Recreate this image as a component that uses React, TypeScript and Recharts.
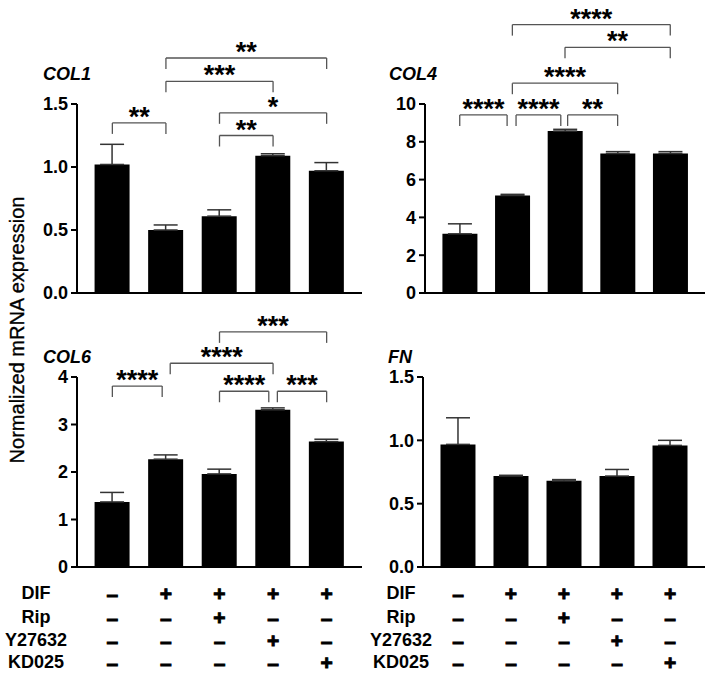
import React from 'react';
import { BarChart, Bar, XAxis, YAxis, ErrorBar, ReferenceLine } from 'recharts';

const groups = [1, 2, 3, 4, 5];

const col1Mean = [1.02, 0.5, 0.61, 1.09, 0.97];
const col1Err = [0.16, 0.04, 0.05, 0.015, 0.065];
const col4Mean = [3.13, 5.16, 8.57, 7.38, 7.38];
const col4Err = [0.53, 0.06, 0.09, 0.1, 0.1];
const col6Mean = [1.37, 2.27, 1.96, 3.31, 2.64];
const col6Err = [0.2, 0.09, 0.1, 0.04, 0.05];
const fnMean = [0.968, 0.718, 0.68, 0.718, 0.96];
const fnErr = [0.21, 0.006, 0.01, 0.052, 0.04];

// significance brackets: group from / to, height in data units, label
const col1Brackets = [
  { x1: 1, x2: 2, y: 1.35, stars: '**' },
  { x1: 3, x2: 4, y: 1.25, stars: '**' },
  { x1: 3, x2: 5, y: 1.43, stars: '*' },
  { x1: 2, x2: 4, y: 1.68, stars: '***' },
  { x1: 2, x2: 5, y: 1.865, stars: '**' },
];
const col4Brackets = [
  { x1: 1, x2: 1.9, y: 9.42, stars: '****' },
  { x1: 2.07, x2: 2.92, y: 9.42, stars: '****' },
  { x1: 3.05, x2: 4, y: 9.42, stars: '**' },
  { x1: 2, x2: 4, y: 11.1, stars: '****' },
  { x1: 3, x2: 5, y: 13.0, stars: '**' },
  { x1: 2, x2: 5, y: 14.2, stars: '****' },
];
const col6Brackets = [
  { x1: 1, x2: 1.93, y: 3.81, stars: '****' },
  { x1: 2.08, x2: 4, y: 4.29, stars: '****' },
  { x1: 3, x2: 3.92, y: 3.7, stars: '****' },
  { x1: 4.08, x2: 5, y: 3.7, stars: '***' },
  { x1: 3, x2: 5, y: 4.95, stars: '***' },
];

const col1Ticks = [0, 0.5, 1, 1.5];
const col4Ticks = [0, 2, 4, 6, 8, 10];
const col6Ticks = [0, 1, 2, 3, 4];
const fnTicks = [0, 0.5, 1, 1.5];

const rowLabels = ['DIF', 'Rip', 'Y27632', 'KD025'];
const rowSigns = [
  ['-', '+', '+', '+', '+'],
  ['-', '-', '+', '-', '-'],
  ['-', '-', '-', '+', '-'],
  ['-', '-', '-', '-', '+'],
];

const FONT = '"Liberation Sans", Arial, Helvetica, sans-serif';
const X_DOMAIN = [0.34, 5.66];

const starLabel = (text: string) => (props: any) => {
  const vb = props.viewBox || {};
  const cx = (vb.x || 0) + (vb.width || 0) / 2;
  return (
    <text x={cx} y={(vb.y || 0) + 3} textAnchor="middle" fontFamily={FONT} fontWeight="bold" fontSize={27} fill="#000">
      {text}
    </text>
  );
};

interface PanelProps {
  box: { left: number; top: number; width: number; height: number };
  plot: { left: number; right: number; top: number; bottom: number };
  mean: number[];
  err: number[];
  ticks: number[];
  decimals: number;
  brackets?: { x1: number; x2: number; y: number; stars: string }[];
}

const Panel = ({ box, plot, mean, err, ticks, decimals, brackets = [] }: PanelProps) => {
  const data = groups.map((g, i) => ({ x: g, v: mean[i], e: [0, err[i]] }));
  const yMax = ticks[ticks.length - 1];
  const legDrop = yMax * (11 / (plot.bottom - plot.top));
  const yW = 45;
  const xH = 10;
  const margin = {
    top: plot.top - box.top,
    bottom: box.top + box.height - plot.bottom - xH,
    left: plot.left - box.left - yW,
    right: box.left + box.width - plot.right,
  };
  return (
    <div style={{ position: 'absolute', left: box.left, top: box.top }}>
      <BarChart width={box.width} height={box.height} data={data} margin={margin}>
        <XAxis
          dataKey="x"
          type="number"
          domain={X_DOMAIN}
          ticks={groups}
          height={xH}
          tick={false}
          tickSize={7}
          axisLine={{ stroke: '#000', strokeWidth: 2 }}
          tickLine={{ stroke: '#000', strokeWidth: 1.5 }}
          allowDataOverflow
        />
        <YAxis
          width={yW}
          domain={[0, yMax]}
          ticks={ticks}
          allowDataOverflow
          tickSize={6}
          tickMargin={3}
          tickFormatter={(v: number) => v.toFixed(decimals)}
          tick={{ fontFamily: FONT, fontWeight: 'bold', fontSize: 18, fill: '#000' }}
          axisLine={{ stroke: '#000', strokeWidth: 2 }}
          tickLine={{ stroke: '#000', strokeWidth: 2 }}
        />
        <Bar dataKey="v" fill="#000" barSize={35} isAnimationActive={false}>
          <ErrorBar dataKey="e" direction="y" width={12} stroke="#333" strokeWidth={1.5} isAnimationActive={false} />
        </Bar>
        {brackets.map((b, i) => (
          <ReferenceLine
            key={`h${i}`}
            segment={[{ x: b.x1, y: b.y }, { x: b.x2, y: b.y }]}
            stroke="#555"
            strokeWidth={1.3}
            ifOverflow="visible"
            label={starLabel(b.stars)}
          />
        ))}
        {brackets.map((b, i) => (
          <ReferenceLine
            key={`l${i}`}
            segment={[{ x: b.x1, y: b.y }, { x: b.x1, y: b.y - legDrop }]}
            stroke="#555"
            strokeWidth={1.3}
            ifOverflow="visible"
          />
        ))}
        {brackets.map((b, i) => (
          <ReferenceLine
            key={`r${i}`}
            segment={[{ x: b.x2, y: b.y }, { x: b.x2, y: b.y - legDrop }]}
            stroke="#555"
            strokeWidth={1.3}
            ifOverflow="visible"
          />
        ))}
      </BarChart>
    </div>
  );
};

const colCenters = (plotLeft: number, plotRight: number) =>
  groups.map((g) => plotLeft + ((g - X_DOMAIN[0]) / (X_DOMAIN[1] - X_DOMAIN[0])) * (plotRight - plotLeft));

const leftCols = colCenters(77, 362);
const rightCols = colCenters(423, 705);
const rowY = [593, 617, 640, 662];

export default function App() {
  return (
    <div style={{ position: 'absolute', left: 0, top: 0, width: 709, height: 676, background: '#fff', overflow: 'hidden' }}>
      <Panel
        box={{ left: 0, top: 0, width: 370, height: 305 }}
        plot={{ left: 77, right: 362, top: 104, bottom: 293 }}
        mean={col1Mean}
        err={col1Err}
        ticks={col1Ticks}
        decimals={1}
        brackets={col1Brackets}
      />
      <Panel
        box={{ left: 360, top: 0, width: 349, height: 305 }}
        plot={{ left: 425, right: 705, top: 104, bottom: 293 }}
        mean={col4Mean}
        err={col4Err}
        ticks={col4Ticks}
        decimals={0}
        brackets={col4Brackets}
      />
      <Panel
        box={{ left: 0, top: 300, width: 370, height: 280 }}
        plot={{ left: 77, right: 362, top: 377, bottom: 567 }}
        mean={col6Mean}
        err={col6Err}
        ticks={col6Ticks}
        decimals={0}
        brackets={col6Brackets}
      />
      <Panel
        box={{ left: 360, top: 300, width: 349, height: 280 }}
        plot={{ left: 423, right: 705, top: 377, bottom: 567 }}
        mean={fnMean}
        err={fnErr}
        ticks={fnTicks}
        decimals={1}
      />
      <svg width={709} height={676} style={{ position: 'absolute', left: 0, top: 0, pointerEvents: 'none' }}>
        <text
          x={17}
          y={330}
          transform="rotate(-90 17 330)"
          textAnchor="middle"
          dominantBaseline="central"
          fontFamily={FONT}
          fontSize={20}
          fill="#000"
          stroke="#000"
          strokeWidth={0.35}
        >
          Normalized mRNA expression
        </text>
        <g fontFamily={FONT} fontWeight="bold" fontStyle="italic" fontSize={18} fill="#000">
          <text x={43} y={80}>COL1</text>
          <text x={389} y={80}>COL4</text>
          <text x={43} y={363}>COL6</text>
          <text x={388} y={363}>FN</text>
        </g>
        <g fontFamily={FONT} fontWeight="bold" fill="#000">
          {rowLabels.map((lab, r) => (
            <React.Fragment key={lab}>
              <text x={36} y={rowY[r]} textAnchor="middle" dominantBaseline="central" fontSize={18}>{lab}</text>
              <text x={401} y={rowY[r]} textAnchor="middle" dominantBaseline="central" fontSize={18}>{lab}</text>
              {rowSigns[r].map((s, c) => (
                <React.Fragment key={c}>
                  <text x={leftCols[c]} y={rowY[r]} textAnchor="middle" dominantBaseline="central" fontSize={21} stroke="#000" strokeWidth={0.9}>
                    {s === '+' ? '+' : '\u2013'}
                  </text>
                  <text x={rightCols[c]} y={rowY[r]} textAnchor="middle" dominantBaseline="central" fontSize={21} stroke="#000" strokeWidth={0.9}>
                    {s === '+' ? '+' : '\u2013'}
                  </text>
                </React.Fragment>
              ))}
            </React.Fragment>
          ))}
        </g>
      </svg>
    </div>
  );
}
